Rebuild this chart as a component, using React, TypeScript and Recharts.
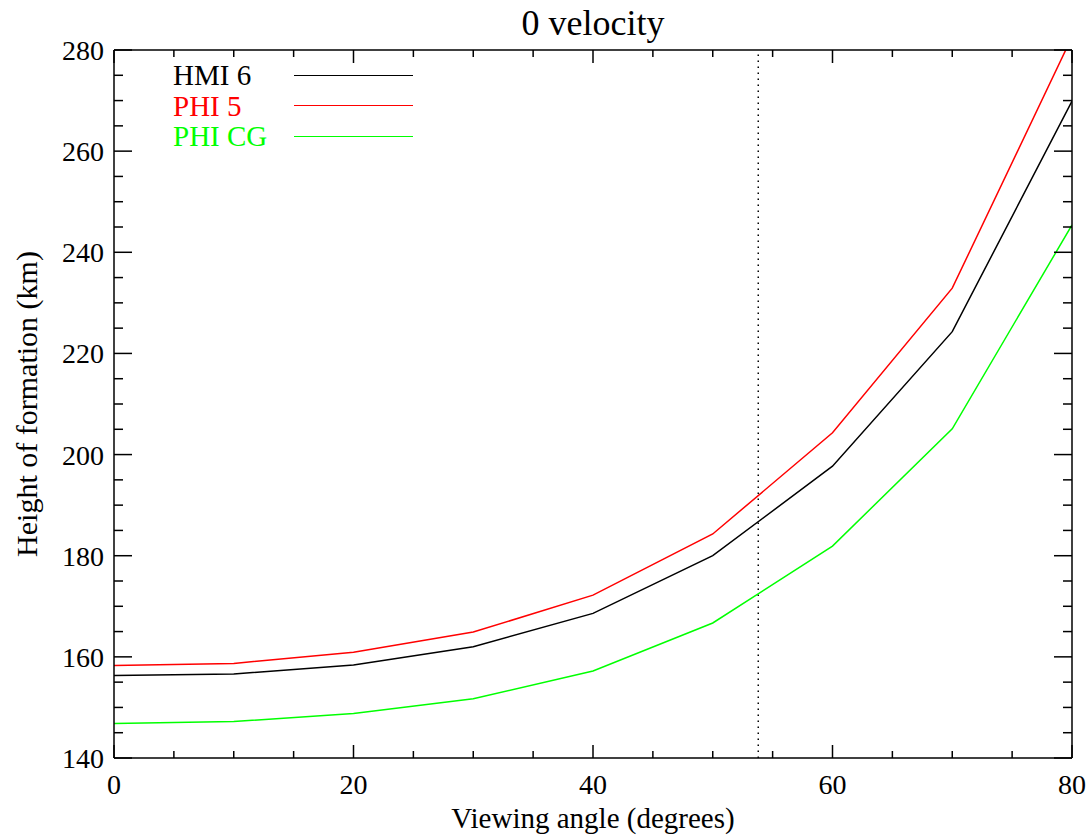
import React from "react";
import { LineChart, Line, XAxis, YAxis, ReferenceLine, Legend } from "recharts";

const angles = [0, 10, 20, 30, 40, 50, 60, 70, 80];
const hmi6 = [156.3, 156.6, 158.4, 162.0, 168.6, 180.0, 197.7, 224.3, 269.9];
const phi5 = [158.3, 158.7, 160.9, 164.9, 172.2, 184.3, 204.3, 232.9, 282.6];
const phiCg = [146.8, 147.2, 148.8, 151.7, 157.2, 166.7, 181.9, 205.1, 245.4];

const xTicks = [0, 5, 10, 15, 20, 25, 30, 35, 40, 45, 50, 55, 60, 65, 70, 75, 80];
const yTicks = [140, 145, 150, 155, 160, 165, 170, 175, 180, 185, 190, 195, 200, 205, 210, 215, 220, 225, 230, 235, 240, 245, 250, 255, 260, 265, 270, 275, 280];
const markerAngle = 53.8;

const data = angles.map((a, i) => ({ angle: a, hmi6: hmi6[i], phi5: phi5[i], phiCg: phiCg[i] }));

const FONT = "'Liberation Serif', 'DejaVu Serif', serif";
const AX = "#000";

const BottomTick = (props: any) => {
  const { x, y, payload } = props;
  const v = payload.value;
  const major = v % 20 === 0;
  return (
    <g>
      <line x1={x} x2={x} y1={y} y2={y - (major ? 13 : 7)} stroke={AX} strokeWidth={1.5} />
      {major && (
        <text x={x} y={y + 36} textAnchor="middle" fontSize={28} fontFamily={FONT} fill="#000">
          {v}
        </text>
      )}
    </g>
  );
};

const TopTick = (props: any) => {
  const { x, y, payload } = props;
  const major = payload.value % 20 === 0;
  return <line x1={x} x2={x} y1={y} y2={y + (major ? 13 : 7)} stroke={AX} strokeWidth={1.5} />;
};

const LeftTick = (props: any) => {
  const { x, y, payload } = props;
  const v = payload.value;
  const major = v % 20 === 0;
  return (
    <g>
      <line x1={x} x2={x + (major ? 18 : 9)} y1={y} y2={y} stroke={AX} strokeWidth={1.5} />
      {major && (
        <text x={x - 10} y={y + 10} textAnchor="end" fontSize={28} fontFamily={FONT} fill="#000">
          {v}
        </text>
      )}
    </g>
  );
};

const RightTick = (props: any) => {
  const { x, y, payload } = props;
  const major = payload.value % 20 === 0;
  return <line x1={x} x2={x - (major ? 18 : 9)} y1={y} y2={y} stroke={AX} strokeWidth={1.5} />;
};

const renderLegend = (props: any) => {
  const { payload } = props;
  return (
    <div style={{ fontFamily: FONT, fontSize: 29, lineHeight: "30.5px" }}>
      {payload.map((p: any) => (
        <div key={p.value} style={{ display: "flex", alignItems: "center", height: 30.5 }}>
          <span style={{ color: p.color, width: 121, whiteSpace: "nowrap" }}>{p.value}</span>
          <span style={{ display: "inline-block", width: 119, height: 0, borderTop: `1.5px solid ${p.color}` }} />
        </div>
      ))}
    </div>
  );
};

export default function App() {
  return (
    <div style={{ position: "absolute", left: 0, top: 0, background: "#fff" }}>
      <LineChart width={1092} height={839} data={data} margin={{ top: 0, right: 0, bottom: 0, left: 0 }}>
        <XAxis
          dataKey="angle"
          type="number"
          domain={[0, 80]}
          ticks={xTicks}
          interval={0}
          allowDataOverflow
          height={81}
          tickSize={0}
          tickMargin={0}
          tick={<BottomTick />}
          axisLine={{ stroke: AX, strokeWidth: 1.5 }}
          label={(p: any) => {
            const vb = p.viewBox;
            return (
              <text x={vb.x + vb.width / 2} y={828} textAnchor="middle" fontSize={29} fontFamily={FONT} fill="#000">
                Viewing angle (degrees)
              </text>
            );
          }}
        />
        <XAxis
          xAxisId="top"
          orientation="top"
          dataKey="angle"
          type="number"
          domain={[0, 80]}
          ticks={xTicks}
          interval={0}
          allowDataOverflow
          height={50}
          tickSize={0}
          tickMargin={0}
          tick={<TopTick />}
          axisLine={{ stroke: AX, strokeWidth: 1.5 }}
          label={(p: any) => {
            const vb = p.viewBox;
            return (
              <text x={vb.x + vb.width / 2} y={35} textAnchor="middle" fontSize={36} fontFamily={FONT} fill="#000">
                0 velocity
              </text>
            );
          }}
        />
        <YAxis
          type="number"
          domain={[140, 280]}
          ticks={yTicks}
          interval={0}
          allowDataOverflow
          width={114}
          tickSize={0}
          tickMargin={0}
          tick={<LeftTick />}
          axisLine={{ stroke: AX, strokeWidth: 1.5 }}
          label={(p: any) => {
            const vb = p.viewBox;
            const cy = vb.y + vb.height / 2;
            return (
              <text x={37} y={cy} transform={`rotate(-90 37 ${cy})`} textAnchor="middle" fontSize={30} fontFamily={FONT} fill="#000">
                Height of formation (km)
              </text>
            );
          }}
        />
        <YAxis
          yAxisId="right"
          orientation="right"
          type="number"
          domain={[140, 280]}
          ticks={yTicks}
          interval={0}
          allowDataOverflow
          width={20}
          tickSize={0}
          tickMargin={0}
          tick={<RightTick />}
          axisLine={{ stroke: AX, strokeWidth: 1.5 }}
        />
        <ReferenceLine x={markerAngle} stroke="#000" strokeWidth={1.5} strokeDasharray="1.5 4.5" />
        <Line type="linear" dataKey="hmi6" name="HMI 6" stroke="#000000" strokeWidth={1.5} dot={false} isAnimationActive={false} />
        <Line type="linear" dataKey="phi5" name="PHI 5" stroke="#ff0000" strokeWidth={1.5} dot={false} isAnimationActive={false} />
        <Line type="linear" dataKey="phiCg" name="PHI CG" stroke="#00ff00" strokeWidth={1.5} dot={false} isAnimationActive={false} />
        <Legend
          layout="vertical"
          align="center"
          verticalAlign="middle"
          content={renderLegend}
          wrapperStyle={{ position: "absolute", top: 60, left: 173, width: "auto", height: "auto" }}
        />
      </LineChart>
    </div>
  );
}
